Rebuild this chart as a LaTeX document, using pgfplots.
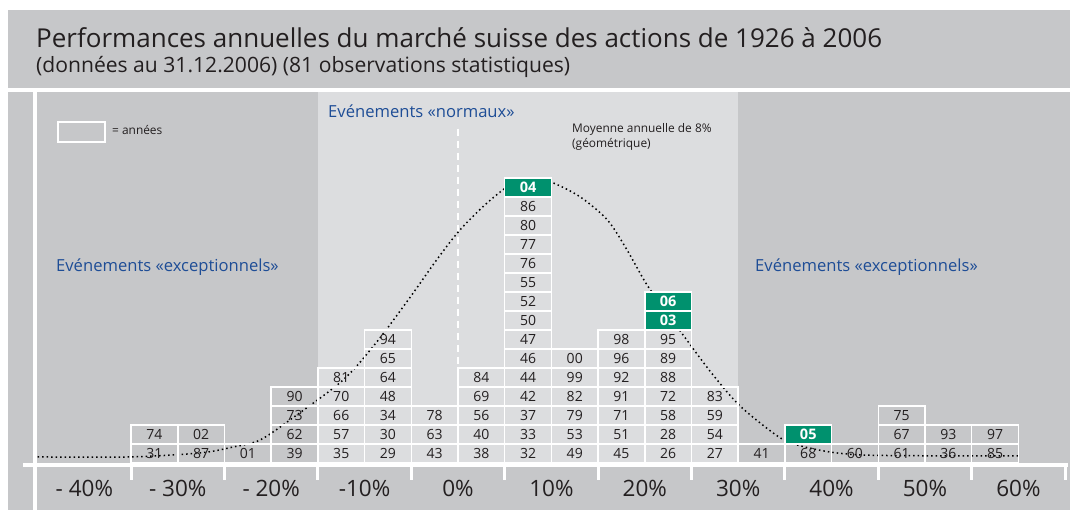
\documentclass[border=0pt]{standalone}
\usepackage{fontspec}
\setmainfont{Open Sans}
\usepackage{pgfplots}
\pgfplotsset{compat=1.18}
\usepackage{pgfplotstable}

\definecolor{darkbg}{RGB}{198,199,201}
\definecolor{lightbg}{RGB}{220,221,223}
\definecolor{boxgreen}{RGB}{0,145,110}
\definecolor{titleblue}{RGB}{30,77,150}
\definecolor{textcol}{RGB}{35,31,32}

\pgfdeclareplotmark{yearbox}{%
  \pgfpathrectangle{\pgfpoint{-23.35pt}{-9.5pt}}{\pgfpoint{46.7pt}{19pt}}%
  \pgfusepathqstroke}
\pgfdeclareplotmark{yearboxg}{%
  \pgfpathrectangle{\pgfpoint{-23.35pt}{-9.5pt}}{\pgfpoint{46.7pt}{19pt}}%
  \pgfusepathqfillstroke}

% years: x = centre of 5% class, y = row centre, label = year
\pgfplotstableread{
x y label
-32.5 0.5 31
-32.5 1.5 74
-27.5 0.5 87
-27.5 1.5 02
-22.5 0.5 01
-17.5 0.5 39
-17.5 1.5 62
-17.5 2.5 73
-17.5 3.5 90
-12.5 0.5 35
-12.5 1.5 57
-12.5 2.5 66
-12.5 3.5 70
-12.5 4.5 81
-7.5 0.5 29
-7.5 1.5 30
-7.5 2.5 34
-7.5 3.5 48
-7.5 4.5 64
-7.5 5.5 65
-7.5 6.5 94
-2.5 0.5 43
-2.5 1.5 63
-2.5 2.5 78
2.5 0.5 38
2.5 1.5 40
2.5 2.5 56
2.5 3.5 69
2.5 4.5 84
7.5 0.5 32
7.5 1.5 33
7.5 2.5 37
7.5 3.5 42
7.5 4.5 44
7.5 5.5 46
7.5 6.5 47
7.5 7.5 50
7.5 8.5 52
7.5 9.5 55
7.5 10.5 76
7.5 11.5 77
7.5 12.5 80
7.5 13.5 86
12.5 0.5 49
12.5 1.5 53
12.5 2.5 79
12.5 3.5 82
12.5 4.5 99
12.5 5.5 00
17.5 0.5 45
17.5 1.5 51
17.5 2.5 71
17.5 3.5 91
17.5 4.5 92
17.5 5.5 96
17.5 6.5 98
22.5 0.5 26
22.5 1.5 28
22.5 2.5 58
22.5 3.5 72
22.5 4.5 88
22.5 5.5 89
22.5 6.5 95
27.5 0.5 27
27.5 1.5 54
27.5 2.5 59
27.5 3.5 83
32.5 0.5 41
37.5 0.5 68
42.5 0.5 60
47.5 0.5 61
47.5 1.5 67
47.5 2.5 75
52.5 0.5 36
52.5 1.5 93
57.5 0.5 85
57.5 1.5 97
}\yearsdata

\pgfplotstableread{
x y label
7.5 14.5 04
22.5 7.5 03
22.5 8.5 06
37.5 1.5 05
}\greendata

\begin{document}
\begin{tikzpicture}
% page background and panels
\fill[white] (0pt,0pt) rectangle (1070pt,510pt);
\fill[darkbg] (8pt,422pt) rectangle (1070pt,500pt);
\fill[darkbg] (8pt,0pt) rectangle (1070pt,418pt);

\begin{axis}[
  scale only axis,
  anchor=south west, at={(37.7pt,0pt)},
  width=1032.3pt, height=418pt,
  xmin=-45, xmax=65.525,
  ymin=-2.4737, ymax=19.526,
  clip=false,
  axis line style={draw=none},
  major tick length=0pt,
  ytick=\empty,
  xtick={-40,-30,...,60},
  xticklabels={- 40\%,- 30\%,- 20\%,-10\%,0\%,10\%,20\%,30\%,40\%,50\%,60\%},
  xticklabel style={anchor=base, yshift=13pt, text=textcol,
                    font=\fontsize{22.5}{22.5}\selectfont},
]
% "normal events" band
\fill[lightbg] (axis cs:-15,0) rectangle (axis cs:30,19.526);
% axis line and white tick marks
\draw[white, line width=4pt] (axis cs:-46.6,-0.105) -- (axis cs:65.3,-0.105);
\pgfplotsinvokeforeach{-35,-25,-15,-5,5,15,25,35,45,55,65}{
  \draw[white, line width=3pt] (axis cs:#1,-0.105) -- (axis cs:#1,-0.9);
}
% mean line (dashed white)
\draw[white, line width=1.8pt, dash pattern=on 7pt off 5pt]
   (axis cs:0,17.6) -- (axis cs:0,5);

% year boxes
\addplot[only marks, mark=yearbox,
  mark options={draw=white, line width=1.5pt},
  point meta=explicit symbolic,
  nodes near coords,
  every node near coord/.append style={anchor=center, inner sep=0pt,
     text=textcol, font=\fontsize{14}{14}\selectfont}]
  table[x=x, y=y, meta=label] {\yearsdata};
\addplot[only marks, mark=yearboxg,
  mark options={draw=white, fill=boxgreen, line width=1.5pt},
  point meta=explicit symbolic,
  nodes near coords,
  every node near coord/.append style={anchor=center, inner sep=0pt,
     text=white, font=\fontsize{14.5}{14.5}\selectfont\bfseries}]
  table[x=x, y=y, meta=label] {\greendata};

% normal curve (dotted)
\addplot[smooth, draw=black, line width=1.5pt, dash pattern=on 1.5pt off 3pt, mark=none]
coordinates {(-45,0.32) (-35,0.32) (-27.6,0.53) (-24.1,0.84) (-21.2,1.21)
 (-17.7,2.37) (-12.3,4.37) (-8.7,6.37) (-5.1,8.74) (-2.3,10.68) (0.2,12.26)
 (3.1,13.68) (5.9,14.74) (8.2,15.0) (10.2,14.74) (13.1,14.0) (16.0,12.79)
 (18.1,11.21) (20.2,9.4) (22.4,7.89) (24.5,6.47) (27.2,4.7) (30.2,3.0)
 (34.2,1.42) (36.3,0.95) (39.8,0.58) (43.4,0.42) (50,0.38) (60,0.37)};
\end{axis}

% white separators
\fill[white] (33pt,0pt) rectangle (37pt,418pt);
\draw[white, line width=4pt] (23pt,45pt) -- (40pt,45pt);

% titles
\node[anchor=base west, inner sep=0pt, text=textcol, font=\fontsize{26}{26}\selectfont]
  at (36pt,462pt) {Performances annuelles du marché suisse des actions de 1926 à 2006};
\node[anchor=base west, inner sep=0pt, text=textcol, font=\fontsize{21.1}{21.1}\selectfont]
  at (36pt,437pt) {(données au 31.12.2006) (81 observations statistiques)};

% annotations
\node[anchor=west, inner sep=0pt, text=titleblue, font=\fontsize{16.6}{16.6}\selectfont]
  at (328pt,399pt) {Evénements «normaux»};
\node[anchor=west, inner sep=0pt, text=titleblue, font=\fontsize{16.6}{16.6}\selectfont]
  at (56pt,243pt) {Evénements «exceptionnels»};
\node[anchor=west, inner sep=0pt, text=titleblue, font=\fontsize{16.6}{16.6}\selectfont]
  at (755pt,243pt) {Evénements «exceptionnels»};
\node[anchor=west, inner sep=0pt, text=textcol, font=\fontsize{11.9}{11.9}\selectfont]
  at (572pt,381pt) {Moyenne annuelle de 8\%};
\node[anchor=west, inner sep=0pt, text=textcol, font=\fontsize{11.9}{11.9}\selectfont]
  at (572pt,366pt) {(géométrique)};
\draw[white, line width=1.5pt] (58pt,368pt) rectangle (105pt,388pt);
\node[anchor=west, inner sep=0pt, text=textcol, font=\fontsize{11.9}{11.9}\selectfont]
  at (112pt,380pt) {= années};

\pgfresetboundingbox
\path[use as bounding box] (0pt,0pt) rectangle (1070pt,510pt);
\end{tikzpicture}
\end{document}
